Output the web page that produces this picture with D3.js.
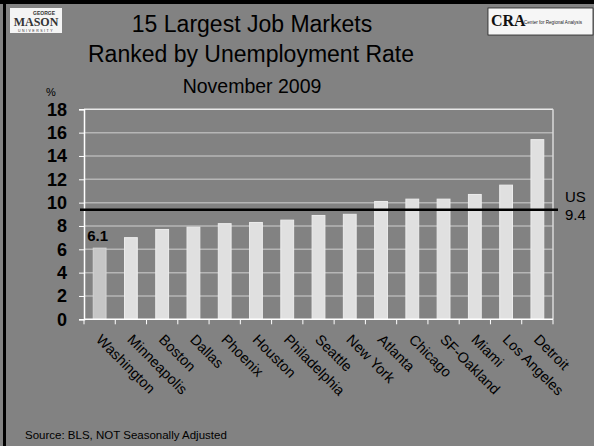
<!DOCTYPE html>
<html><head><meta charset="utf-8">
<script src="https://cdn.jsdelivr.net/npm/d3@7"></script>
<style>body{margin:0;background:#828282;}svg{display:block;font-family:Arial,"Liberation Sans",sans-serif;}</style>
</head><body>
<script>
const categories = ["Washington","Minneapolis","Boston","Dallas","Phoenix","Houston","Philadelphia","Seattle","New York","Atlanta","Chicago","SF-Oakland","Miami","Los Angeles","Detroit"];
const rates = [6.1,7.0,7.7,7.9,8.2,8.3,8.5,8.9,9.0,10.1,10.3,10.3,10.7,11.5,15.4];
const usRate = 9.4;
const yTicks = [0,2,4,6,8,10,12,14,16,18];
const titleLines = ["15 Largest Job Markets","Ranked by Unemployment Rate","November 2009"];

const W=594,H=446;
const svg=d3.select("body").append("svg").attr("width",W).attr("height",H);
svg.append("rect").attr("width",W).attr("height",H).attr("fill","#828282");
// frame
svg.append("rect").attr("x",0).attr("y",0).attr("width",W).attr("height",4).attr("fill","#000");
svg.append("rect").attr("x",3).attr("y",0).attr("width",3).attr("height",H).attr("fill","#000");

const x=d3.scaleBand().domain(categories).range([84,553]).paddingInner(0.59).paddingOuter(0.295);
const y=d3.scaleLinear().domain([0,18]).range([319.3,109.3]);

// gridlines
svg.append("g").selectAll("line").data(yTicks.filter(d=>d>0&&d<18)).join("line")
  .attr("x1",84).attr("x2",553).attr("y1",d=>y(d)).attr("y2",d=>y(d))
  .attr("stroke","#b6b6b6").attr("stroke-width",1.5);
svg.append("line").attr("x1",84).attr("x2",553).attr("y1",y(18)).attr("y2",y(18)).attr("stroke","#e8e8e8").attr("stroke-width",1.5);
svg.append("line").attr("x1",553).attr("x2",553).attr("y1",y(18)).attr("y2",y(0)).attr("stroke","#d8d8d8").attr("stroke-width",1.5);

// bars
svg.append("g").selectAll("rect").data(categories).join("rect")
  .attr("x",d=>x(d)).attr("width",x.bandwidth())
  .attr("y",(d,i)=>y(rates[i])).attr("height",(d,i)=>y(0)-y(rates[i]))
  .attr("fill",(d,i)=>i===0?"#c6c6c6":"#e0e0e0")
  .attr("stroke",(d,i)=>i===0?"#d4d4d4":"#ececec").attr("stroke-width",1);

// y axis
const ya=d3.axisLeft(y).tickValues(yTicks).tickSize(5).tickPadding(12).tickFormat(d3.format("d"));
const gy=svg.append("g").attr("transform","translate(84,0)").call(ya);
gy.select(".domain").attr("stroke","#fff").attr("stroke-width",1.5);
gy.selectAll(".tick line").attr("stroke","#fff");
gy.selectAll(".tick text").attr("font-size",18).attr("font-weight","bold").attr("fill","#000")
  .attr("font-family","Arial,'Liberation Sans',sans-serif");

// x axis
const boundaries=d3.range(categories.length+1).map(i=>84+i*(469/categories.length));
const gx=svg.append("g");
gx.append("line").attr("x1",84).attr("x2",553).attr("y1",y(0)).attr("y2",y(0)).attr("stroke","#fff").attr("stroke-width",1.5);
gx.selectAll("line.t").data(boundaries).join("line").attr("class","t")
  .attr("x1",d=>d).attr("x2",d=>d).attr("y1",y(0)).attr("y2",y(0)+5).attr("stroke","#fff");
gx.selectAll("text").data(categories).join("text")
  .attr("transform",d=>`translate(${x(d)+x.bandwidth()/2+3},${y(0)+14}) rotate(45)`)
  .attr("dy","0.71em").attr("font-size",14.5).attr("fill","#000").text(d=>d);

// US line
svg.append("line").attr("x1",80).attr("x2",558).attr("y1",y(usRate)).attr("y2",y(usRate)).attr("stroke","#000").attr("stroke-width",2.5);
svg.append("text").attr("x",565).attr("y",202).attr("font-size",15).text("US");
svg.append("text").attr("x",565).attr("y",220).attr("font-size",15).text(String(usRate));

// value label
svg.append("text").attr("x",x(categories[0])+x.bandwidth()/2-2).attr("y",241).attr("text-anchor","middle")
  .attr("font-size",15).attr("font-weight","bold").text(rates[0].toFixed(1));

// titles
svg.append("text").attr("x",252).attr("y",32).attr("text-anchor","middle").attr("font-size",23).text(titleLines[0]);
svg.append("text").attr("x",251).attr("y",62).attr("text-anchor","middle").attr("font-size",23).text(titleLines[1]);
svg.append("text").attr("x",252).attr("y",93).attr("text-anchor","middle").attr("font-size",19.5).text(titleLines[2]);
svg.append("text").attr("x",46).attr("y",96).attr("font-size",11).text("%");

// source
svg.append("text").attr("x",25).attr("y",439).attr("font-size",11.5).text("Source: BLS, NOT Seasonally Adjusted");

// logos
const m=svg.append("g");
m.append("rect").attr("x",10).attr("y",8).attr("width",52).attr("height",25).attr("fill","#f4f4f4");
m.append("text").attr("x",44).attr("y",15).attr("text-anchor","middle").attr("font-size",5).attr("font-weight","bold").attr("fill","#333").text("GEORGE");
m.append("text").attr("x",36).attr("y",26).attr("text-anchor","middle").attr("font-size",12).attr("font-weight","bold")
  .attr("font-family","'Liberation Serif','DejaVu Serif',serif").attr("fill","#333").text("MASON");
m.append("text").attr("x",36).attr("y",31.5).attr("text-anchor","middle").attr("font-size",3.5).attr("fill","#333").attr("letter-spacing",1.5).text("UNIVERSITY");
const c=svg.append("g");
c.append("rect").attr("x",488).attr("y",8).attr("width",105).attr("height",27).attr("fill","#f6f6f6").attr("stroke","#222").attr("stroke-width",0.8);
c.append("text").attr("x",491).attr("y",26).attr("font-size",16).attr("font-weight","bold").attr("font-family","'Liberation Serif',serif").attr("fill","#111").text("CRA");
c.append("text").attr("x",524).attr("y",24).attr("font-size",4.6).attr("fill","#222").text("Center for Regional Analysis");
</script>
</body></html>
